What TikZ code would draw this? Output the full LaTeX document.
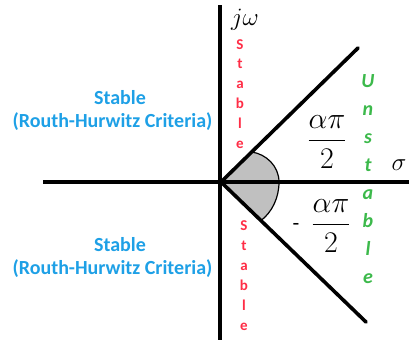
\RequirePackage{fix-cm}
\documentclass[tikz,border=0pt]{standalone}
\usepackage{fontspec}
\usepackage{amsmath}
\newfontfamily\carl{Carlito}
\definecolor{stblue}{RGB}{30,160,230}
\definecolor{stred}{RGB}{255,45,70}
\definecolor{stgreen}{RGB}{60,185,75}
\definecolor{sector}{RGB}{192,192,192}
\tikzset{
  axis/.style={line width=3.6pt},
  ray/.style={line width=3.6pt, line cap=round},
  redl/.style={anchor=base, inner sep=0pt, text=stred, font=\carl\bfseries\fontsize{15}{15}\selectfont},
  greenl/.style={anchor=base, inner sep=0pt, text=stgreen, font=\carl\bfseries\itshape\fontsize{20}{20}\selectfont},
  bluet/.style={anchor=base, inner sep=0pt, text=stblue, font=\carl\bfseries\fontsize{20}{20}\selectfont},
  mathl/.style={inner sep=0pt, font=\fontsize{25}{27}\selectfont},
  frac/.style={inner sep=0pt, font=\fontsize{30}{32}\selectfont}
}
\begin{document}
\begin{tikzpicture}[x=1pt,y=-1pt]
\useasboundingbox (0,0) rectangle (409,341);
\coordinate (O) at (221,182);
\coordinate (xl) at (43,182);
\coordinate (xr) at (409,182);
\coordinate (yt) at (220,5);
\coordinate (yb) at (220,340);
\coordinate (U) at (358,48);
\coordinate (L) at (366,322);
% shaded sector
\path[fill=sector, draw=black, line width=1.2pt]
  (O) -- (251.7,152) .. controls (266,154) and (279,166) .. (279,182)
  .. controls (279,198) and (272,212) .. (261,220.6) -- cycle;
% axes and rays
\draw[axis] (xl) -- (xr);
\draw[axis] (yt) -- (yb);
\draw[ray] (O) -- (U);
\draw[ray] (O) -- (L);
% axis labels
\node[mathl, anchor=base] (jw) at (245,25) {$j\omega$};
\node[mathl, anchor=base] (sig) at (399,170) {$\sigma$};
% fractions
\node[frac] (f1) at (327,142) {$\dfrac{\alpha\pi}{2}$};
\node[frac] (f2) at (331,226) {$\dfrac{\alpha\pi}{2}$};
\node[inner sep=0pt, font=\carl\fontsize{22}{22}\selectfont] (minus) at (296,227) {-};
% red Stable
\foreach \ch [count=\i] in {S,t,a,b,l,e}
  \node[redl] (su\i) at (240,{49+19.8*(\i-1)}) {\ch};
\foreach \ch [count=\i] in {S,t,a,b,l,e}
  \node[redl] (sl\i) at (244,{230+20*(\i-1)}) {\ch};
% green Unstable
\foreach \ch [count=\i] in {U,n,s,t,a,b,l,e}
  \node[greenl] (g\i) at (368,{87+28*(\i-1)}) {\ch};
% blue labels
\node[bluet] (b1) at (120,104) {Stable};
\node[bluet] (b2) at (112.5,127) {(Routh-Hurwitz Criteria)};
\node[bluet] (b3) at (120,251) {Stable};
\node[bluet] (b4) at (112.5,274) {(Routh-Hurwitz Criteria)};
\end{tikzpicture}
\end{document}
